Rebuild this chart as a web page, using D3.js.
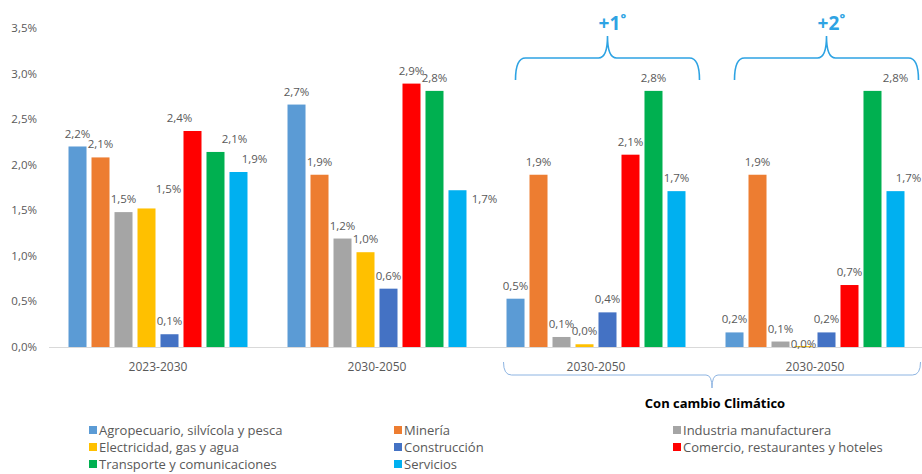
<!DOCTYPE html>
<html>
<head>
<meta charset="utf-8">
<script src="https://cdn.jsdelivr.net/npm/d3@7"></script>
<style>
  body { margin: 0; background: #fff; }
  text { font-family: "Open Sans", sans-serif; }
</style>
</head>
<body>
<svg width="922" height="474"></svg>
<script>
// Crecimiento por sector

var periods = ["2023-2030", "2030-2050", "2030-2050 (+1)", "2030-2050 (+2)"];
var periodLabels = ["2023-2030", "2030-2050", "2030-2050", "2030-2050"];
var sectors = ["Agropecuario, silvícola y pesca", "Minería", "Industria manufacturera",
  "Electricidad, gas y agua", "Construcción", "Comercio, restaurantes y hoteles",
  "Transporte y comunicaciones", "Servicios"];
var colors = ["#5B9BD5", "#ED7D31", "#A5A5A5", "#FFC000", "#4472C4", "#FF0000", "#00B050", "#00B0F0"];

var v2023_2030 = [2.20, 2.08, 1.48, 1.52, 0.14, 2.37, 2.14, 1.92];
var v2030_2050 = [2.66, 1.89, 1.19, 1.04, 0.64, 2.89, 2.81, 1.72];
var vPlus1 = [0.53, 1.89, 0.11, 0.03, 0.38, 2.11, 2.81, 1.71];
var vPlus2 = [0.16, 1.89, 0.06, 0.01, 0.16, 0.68, 2.81, 1.71];
var values = [v2023_2030, v2030_2050, vPlus1, vPlus2];

var yTicks = [0, 0.5, 1, 1.5, 2, 2.5, 3, 3.5];

// label nudges [period, sector, dx, dy]
var nudges = [[0, 3, 22, -6], [0, 5, -13, 0], [0, 6, 19, 0], [0, 7, 16, 0],
  [1, 7, 27, 22], [3, 3, 0, 11], [3, 6, 23, 0], [3, 7, 13, 0]];

var locale = d3.formatLocale({decimal: ",", thousands: ".", grouping: [3], currency: ["", ""]});
var fmt = locale.format(".1f");

var svg = d3.select("svg");
svg.append("rect").attr("width", 922).attr("height", 474).attr("fill", "#fff");

var x0 = d3.scaleBand().domain(periods).range([48.5, 924.5]);
var x1 = d3.scaleBand().domain(sectors).range([0, x0.bandwidth()])
  .paddingInner(0.217).paddingOuter(0.87);
var y = d3.scaleLinear().domain([0, 3.5]).range([347, 28]);

// y axis labels
svg.append("g").selectAll("text")
  .data(yTicks).enter().append("text")
  .attr("x", 37).attr("y", function (d) { return y(d); })
  .attr("dy", "0.35em").attr("text-anchor", "end")
  .attr("font-size", 11.5).attr("fill", "#595959")
  .text(function (d) { return fmt(d) + "%"; });

// baseline
svg.append("line").attr("x1", 49).attr("x2", 922)
  .attr("y1", y(0) + 0.5).attr("y2", y(0) + 0.5)
  .attr("stroke", "#D9D9D9").attr("stroke-width", 1);

var groups = svg.selectAll("g.grp").data(periods).enter().append("g")
  .attr("class", "grp")
  .attr("transform", function (d) { return "translate(" + x0(d) + ",0)"; });

groups.selectAll("rect").data(function (d, i) { return values[i]; })
  .enter().append("rect")
  .attr("x", function (d, j) { return x1(sectors[j]); })
  .attr("y", function (d) { return y(d); })
  .attr("width", x1.bandwidth())
  .attr("height", function (d) { return y(0) - y(d); })
  .attr("fill", function (d, j) { return colors[j]; });

groups.each(function (p, i) {
  d3.select(this).selectAll("text.val").data(values[i]).enter().append("text")
    .attr("class", "val")
    .attr("x", function (d, j) {
      var n = nudges.find(function (k) { return k[0] === i && k[1] === j; });
      return x1(sectors[j]) + x1.bandwidth() / 2 + (n ? n[2] : 0);
    })
    .attr("y", function (d, j) {
      var n = nudges.find(function (k) { return k[0] === i && k[1] === j; });
      return y(d) - 13 + (n ? n[3] : 0);
    })
    .attr("dy", "0.35em").attr("text-anchor", "middle")
    .attr("font-size", 11.5).attr("fill", "#595959")
    .text(function (d) { return fmt(d) + "%"; });
});

// category labels
svg.append("g").selectAll("text").data(periods).enter().append("text")
  .attr("x", function (d) { return x0(d) + x0.bandwidth() / 2; })
  .attr("y", 367).attr("dy", "0.35em").attr("text-anchor", "middle")
  .attr("font-size", 12).attr("fill", "#595959")
  .text(function (d, i) { return periodLabels[i]; });

// braces +1 / +2
var braceColor = "#2EA3E3";
function topBrace(xa, xb, yl) {
  var xm = (xa + xb) / 2;
  return "M" + xa + "," + (yl + 22) + " Q" + xa + "," + yl + " " + (xa + 10) + "," + yl +
    " L" + (xm - 9) + "," + yl + " Q" + xm + "," + yl + " " + xm + "," + (yl - 22) +
    " Q" + xm + "," + yl + " " + (xm + 9) + "," + yl +
    " L" + (xb - 10) + "," + yl + " Q" + xb + "," + yl + " " + xb + "," + (yl + 22);
}
[[periods[2], "+1˚"], [periods[3], "+2˚"]].forEach(function (b) {
  var xa = x0(b[0]) + 29, xb = x0(b[0]) + 213;
  svg.append("path").attr("d", topBrace(xa, xb, 58))
    .attr("fill", "none").attr("stroke", braceColor).attr("stroke-width", 1.6);
  svg.append("text").attr("x", (xa + xb) / 2 + 5).attr("y", 30)
    .attr("text-anchor", "middle").attr("font-size", 19).attr("font-weight", "bold")
    .attr("fill", braceColor).text(b[1]);
});

// bottom bracket
var bx1 = x0(periods[2]) + 17, bx2 = x0(periods[3]) + x0.bandwidth() - 4, bm = (bx1 + bx2) / 2;
svg.append("path")
  .attr("d", "M" + bx1 + ",362 Q" + bx1 + ",375 " + (bx1 + 8) + ",375 L" + (bm - 6) + ",375 Q" + bm + ",375 " + bm + ",388 Q" + bm + ",375 " + (bm + 6) + ",375 L" + (bx2 - 8) + ",375 Q" + bx2 + ",375 " + bx2 + ",362")
  .attr("fill", "none").attr("stroke", "#8DB4E2").attr("stroke-width", 1);
svg.append("text").attr("x", bm + 3).attr("y", 403).attr("dy", "0.35em")
  .attr("text-anchor", "middle").attr("font-size", 13).attr("font-weight", "bold")
  .attr("fill", "#000").text("Con cambio Climático");

// legend
var legCols = [89, 394, 673], legRows = [430, 447, 464];
var leg = svg.append("g").selectAll("g").data(sectors).enter().append("g")
  .attr("transform", function (d, i) {
    return "translate(" + legCols[i % 3] + "," + legRows[Math.floor(i / 3)] + ")";
  });
leg.append("rect").attr("x", 0).attr("y", -4).attr("width", 8).attr("height", 8)
  .attr("fill", function (d, i) { return colors[i]; });
leg.append("text").attr("x", 10).attr("y", 0).attr("dy", "0.35em")
  .attr("font-size", 13).attr("fill", "#595959")
  .text(function (d) { return d; });
</script>
</body>
</html>
